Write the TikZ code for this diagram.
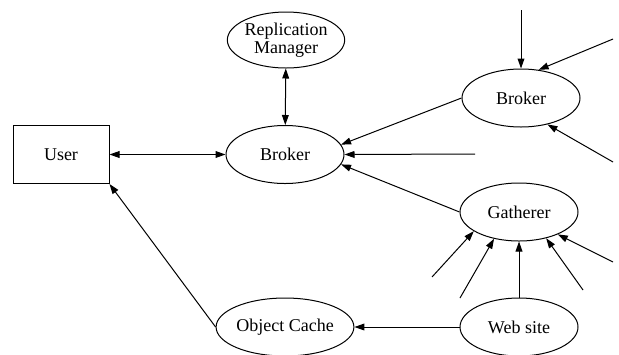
\documentclass[tikz,border=0pt]{standalone}
\usepackage{fontspec}
\setmainfont{Liberation Serif}
\usetikzlibrary{arrows.meta,shapes.geometric}

\begin{document}
\begin{tikzpicture}[x=0.5pt,y=-0.5pt,
  every node/.style={font=\fontsize{9}{7.6}\selectfont},
  proc/.style={draw, ellipse, line width=0.5pt, inner sep=0pt, minimum width=59pt, minimum height=29pt, align=center},
  box/.style={draw, rectangle, line width=0.5pt, inner sep=0pt, minimum width=48pt, minimum height=29pt},
  flow/.style={line width=0.5pt, -{Triangle[length=5pt,width=3.4pt]}},
  dflow/.style={line width=0.5pt, {Triangle[length=5pt,width=3.4pt]}-{Triangle[length=5pt,width=3.4pt]}}]

\useasboundingbox (0,0) rectangle (619,354);

\path[shape=coordinate]
(521,10) coordinate(c1) (613,39) coordinate(c2)
(613,162) coordinate(c3) (475,154) coordinate(c4)
(432,277) coordinate(d1) (460,298) coordinate(d2)
(583,290) coordinate(d4) (613,262) coordinate(d5);

\node[box](u) at (61,154.5){User};
\node[proc](b1) at (285,154.5){Broker};
\node[proc, minimum width=58.5pt, minimum height=28pt](rm) at (286,40){Replication\\Manager};
\node[proc](b2) at (521,98){Broker};
\node[proc](g) at (519,212){Gatherer};
\node[proc](w) at (519,327){Web site};
\node[proc](oc) at (285,327){Object Cache};

\draw[dflow] (u) -- (b1);
\draw[dflow] (rm) -- (b1);

\draw[flow] (b2.west) -- (b1.10);
\draw[flow] (c4) -- (b1.east);
\draw[flow] (g.west) -- (b1.-10);

\draw[flow] (c1) -- (b2.north);
\draw[flow] (c2) -- (b2.58);
\draw[flow] (c3) -- (b2.-45);

\draw[flow] (d1) -- (g.-157);
\draw[flow] (d2) -- (g.-133);
\draw[flow] (w) -- (g);
\draw[flow] (d4) -- (g.-44);
\draw[flow] (d5) -- (g.-30);

\draw[flow] (w) -- (oc);
\draw[flow] (oc.west) -- (u.south east);

\end{tikzpicture}
\end{document}
